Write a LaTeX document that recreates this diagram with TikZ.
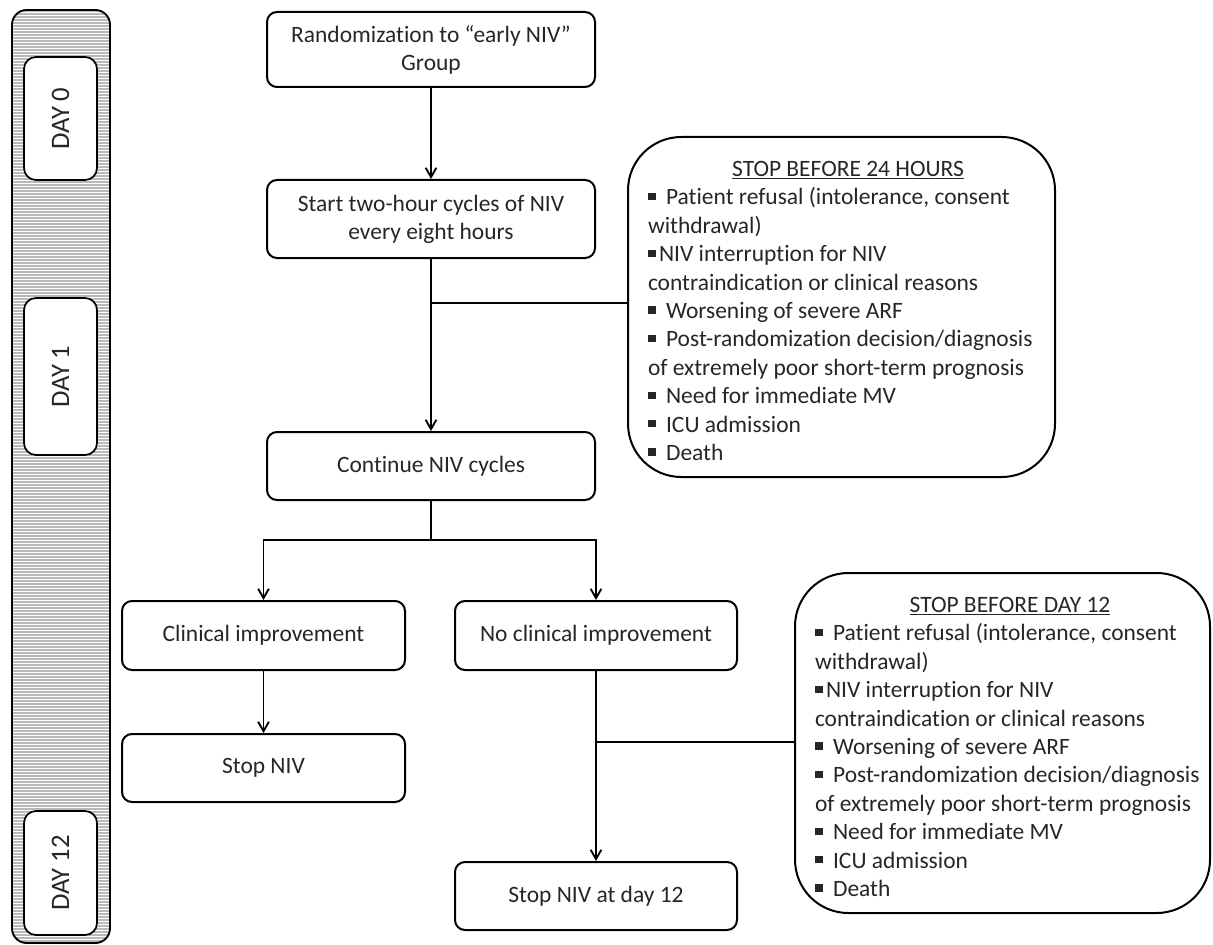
\documentclass[tikz,border=0pt]{standalone}
\usepackage{fontspec}
\setmainfont{Carlito}[Ligatures=NoCommon]
\usetikzlibrary{arrows.meta}
\newcommand{\sqb}{\rule[0.2em]{0.32em}{0.32em}}
\begin{document}
\begin{tikzpicture}[x=0.75pt,y=-0.75pt,
  box/.style={draw, line width=1.5pt, rounded corners=7.5pt, inner sep=0pt, align=center,
    font=\fontsize{17.6}{21}\selectfont, text=black!85},
  stopbox/.style={draw, line width=1.5pt, rounded corners=40pt, inner sep=0pt,
    minimum height=255pt, font=\fontsize{17.6}{21.3}\selectfont, text=black!85},
  daybox/.style={draw, fill=white, line width=1.3pt, rounded corners=9pt, inner sep=0pt,
    minimum width=54.75pt, font=\fontsize{20}{22}\selectfont, text=black!85},
  conn/.style={line width=1.4pt},
  arr/.style={conn, -{Straight Barb[length=7pt,width=8pt,line width=1.4pt]}}
]
\useasboundingbox (0,0) rectangle (1213,945);

% time bar
\begin{scope}
\clip[rounded corners=11pt] (12,10) rectangle (110,943);
\fill[white] (12,10) rectangle (110,943);
\foreach \yy in {11,14,...,943} \draw[gray!55, line width=0.9pt] (12,\yy) -- (110,\yy);
\end{scope}
\draw[line width=1.4pt, rounded corners=11pt] (12,10) rectangle (110,943);

\node[daybox, minimum height=92.25pt] (d0) at (60.5,118.5) {\rotatebox{90}{DAY 0}};
\node[daybox, minimum height=117.75pt] (d1) at (60.5,376.5) {\rotatebox{90}{DAY 1}};
\node[daybox, minimum height=93pt] (d12) at (60.5,873) {\rotatebox{90}{DAY 12}};

% main flow
\node[box, minimum width=246pt, minimum height=56.25pt] (rand) at (431,49.5) {Randomization to “early NIV”\\Group};
\node[box, minimum width=246pt, minimum height=58.5pt] (start) at (431,219) {Start two-hour cycles of NIV\\every eight hours};
\node[box, minimum width=246pt, minimum height=51pt] (cont) at (431,466) {Continue NIV cycles};
\node[box, minimum width=212.25pt, minimum height=51.75pt] (clin) at (263.5,635.5) {Clinical improvement};
\node[box, minimum width=211.5pt, minimum height=51.75pt] (noclin) at (596,635.5) {No clinical improvement};
\node[box, minimum width=212.25pt, minimum height=51pt] (stopniv) at (263.5,768) {Stop NIV};
\node[box, minimum width=211.5pt, minimum height=51pt] (stop12) at (596,896) {Stop NIV at day 12};

\node[stopbox, minimum width=320.25pt] (stopA) at (841.5,307) {\hspace*{9.75pt}\parbox{300pt}{\raggedright\vspace*{6pt}%
\makebox[\linewidth]{\underline{STOP BEFORE 24 HOURS}}\\
\sqb\hspace{0.45em}Patient refusal (intolerance, consent\\
withdrawal)\\
\sqb\hspace{0.15em}NIV interruption for NIV\\
contraindication or clinical reasons\\
\sqb\hspace{0.45em}Worsening of severe ARF\\
\sqb\hspace{0.45em}Post-randomization decision/diagnosis\\
of extremely poor short-term prognosis\\
\sqb\hspace{0.45em}Need for immediate MV\\
\sqb\hspace{0.45em}ICU admission\\
\sqb\hspace{0.45em}Death}};

\node[stopbox, minimum width=311.25pt] (stopB) at (1002.5,743) {\hspace*{11.25pt}\parbox{292.5pt}{\raggedright\vspace*{6pt}%
\makebox[\linewidth]{\underline{STOP BEFORE DAY 12}}\\
\sqb\hspace{0.45em}Patient refusal (intolerance, consent\\
withdrawal)\\
\sqb\hspace{0.15em}NIV interruption for NIV\\
contraindication or clinical reasons\\
\sqb\hspace{0.45em}Worsening of severe ARF\\
\sqb\hspace{0.45em}Post-randomization decision/diagnosis\\
of extremely poor short-term prognosis\\
\sqb\hspace{0.45em}Need for immediate MV\\
\sqb\hspace{0.45em}ICU admission\\
\sqb\hspace{0.45em}Death}};

% connectors
\draw[arr] (rand) -- (start);
\draw[arr] (start) -- (cont);
\coordinate (j1) at (431,303);
\draw[conn] (j1) -- (j1 -| stopA.west);
\coordinate (j2) at (431,540);
\draw[conn] (cont) -- (j2);
\draw[arr] (j2) -| (clin);
\draw[arr] (j2) -| (noclin);
\draw[arr] (clin) -- (stopniv);
\draw[arr] (noclin) -- (stop12);
\coordinate (j3) at (596,742);
\draw[conn] (j3) -- (j3 -| stopB.west);
\end{tikzpicture}
\end{document}
